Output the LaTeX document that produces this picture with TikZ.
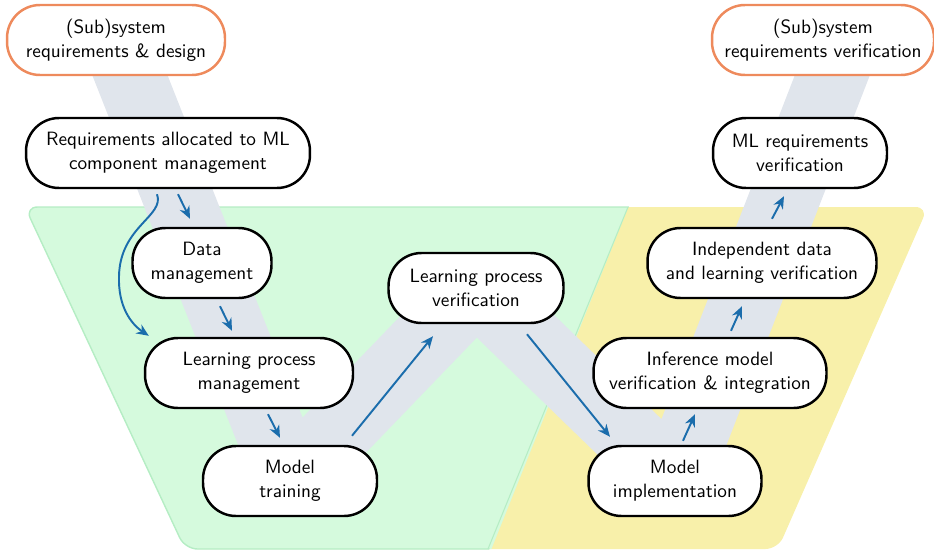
\documentclass[tikz,border=0pt]{standalone}
\usetikzlibrary{arrows.meta,calc,backgrounds}

\definecolor{bandgray}{HTML}{E0E5EC}
\definecolor{learngreen}{HTML}{D5FADD}
\definecolor{learnline}{HTML}{B5EDC4}
\definecolor{implyellow}{HTML}{F8F0AA}
\definecolor{sysorange}{HTML}{EE8A5C}
\definecolor{flowblue}{HTML}{1B6DAC}

\tikzset{
	stage/.style={draw=black,line width=1.4pt,fill=white,rounded corners=0.66cm,minimum height=1.4cm,align=center,inner xsep=0pt,font=\sffamily\fontsize{10.95}{13.8}\selectfont},
	sysstage/.style={stage,draw=sysorange},
	flow/.style={flowblue,line width=1.1pt,-{Stealth[length=7pt,width=6pt]}},
}

\begin{document}
\begin{tikzpicture}[x=0.02cm,y=-0.02cm]
	\useasboundingbox (0,0) rectangle (934,551);

	\node[sysstage,minimum width=4.36cm] (sysl) at (116,40) {(Sub)system\\requirements \& design};
	\node[sysstage,minimum width=4.44cm] (sysr) at (823,40) {(Sub)system\\requirements verification};

	\node[stage,minimum width=5.68cm] (req) at (168,153) {Requirements allocated to ML\\component management};
	\node[stage,minimum width=2.78cm] (dat) at (202,263) {Data\\management};
	\node[stage,minimum width=4.16cm] (lpm) at (249,373) {Learning process\\management};
	\node[stage,minimum width=3.48cm] (mtr) at (290,481) {Model\\training};
	\node[stage,minimum width=3.5cm] (lpv) at (476,288) {Learning process\\verification};
	\node[stage,minimum width=3.46cm] (mim) at (675,481) {Model\\implementation};
	\node[stage,minimum width=4.66cm] (inf) at (710,373) {Inference model\\verification \& integration};
	\node[stage,minimum width=4.58cm] (ind) at (762,263) {Independent data\\and learning verification};
	\node[stage,minimum width=3.48cm] (mlv) at (800,153) {ML requirements\\verification};

	\coordinate (bandtop) at (846,40);



	\begin{pgfonlayer}{background}
		\begin{scope}
			\clip[rounded corners=0.25cm] (25,207) -- (928,207) -- (778,549) -- (185,549) -- cycle;
			\fill[implyellow] (0,200) rectangle (934,551);
			\fill[learngreen] (0,200) -- (631,200) -- (487,560) -- (0,560) -- cycle;
			\draw[learnline,line width=0.6pt] (628,207) -- (488,549);
		\end{scope}
		\begin{scope}
			\clip (0,0) -- (713,0) -- (485,560) -- (0,560) -- cycle;
			\draw[learnline,line width=0.8pt,rounded corners=0.25cm] (25,207) -- (928,207) -- (778,549) -- (185,549) -- cycle;
		\end{scope}

		\draw[bandgray,line width=1.4cm,line join=bevel] (sysl.center) -- (mtr.center) -- (lpv.center) -- (mim.center) -- (bandtop);
	\end{pgfonlayer}



	\draw[flow] ($(req.south)+(10,5)$) -- ($(dat.north)+(-12,-8)$);
	\draw[flow] ($(req.south)+(-11,5)$) .. controls +(8,22) and +(1,-50) .. ++(-38,82) .. controls +(-1,30) and +(-18,-12) .. ($(lpm.north west)+(5,-1)$);
	\draw[flow] ($(dat.south)+(18,7)$) -- ($(lpm.north)+(-17,-6)$);
	\draw[flow] ($(lpm.south)+(19,5)$) -- ($(mtr.north)+(-10,-7)$);
	\draw[flow] ($(mtr.north)+(62,-9)$) -- ($(lpv.south)+(-43,12)$);
	\draw[flow] ($(lpv.south)+(51,10)$) -- ($(mim.north)+(-65,-8)$);
	\draw[flow] ($(mim.north)+(8,-4)$) -- ($(inf.south)+(-15,5)$);
	\draw[flow] ($(inf.north)+(21,-6)$) -- ($(ind.south)+(-20,7)$);
	\draw[flow] ($(ind.north)+(10,-8)$) -- ($(mlv.south)+(-16,7)$);

\end{tikzpicture}
\end{document}
